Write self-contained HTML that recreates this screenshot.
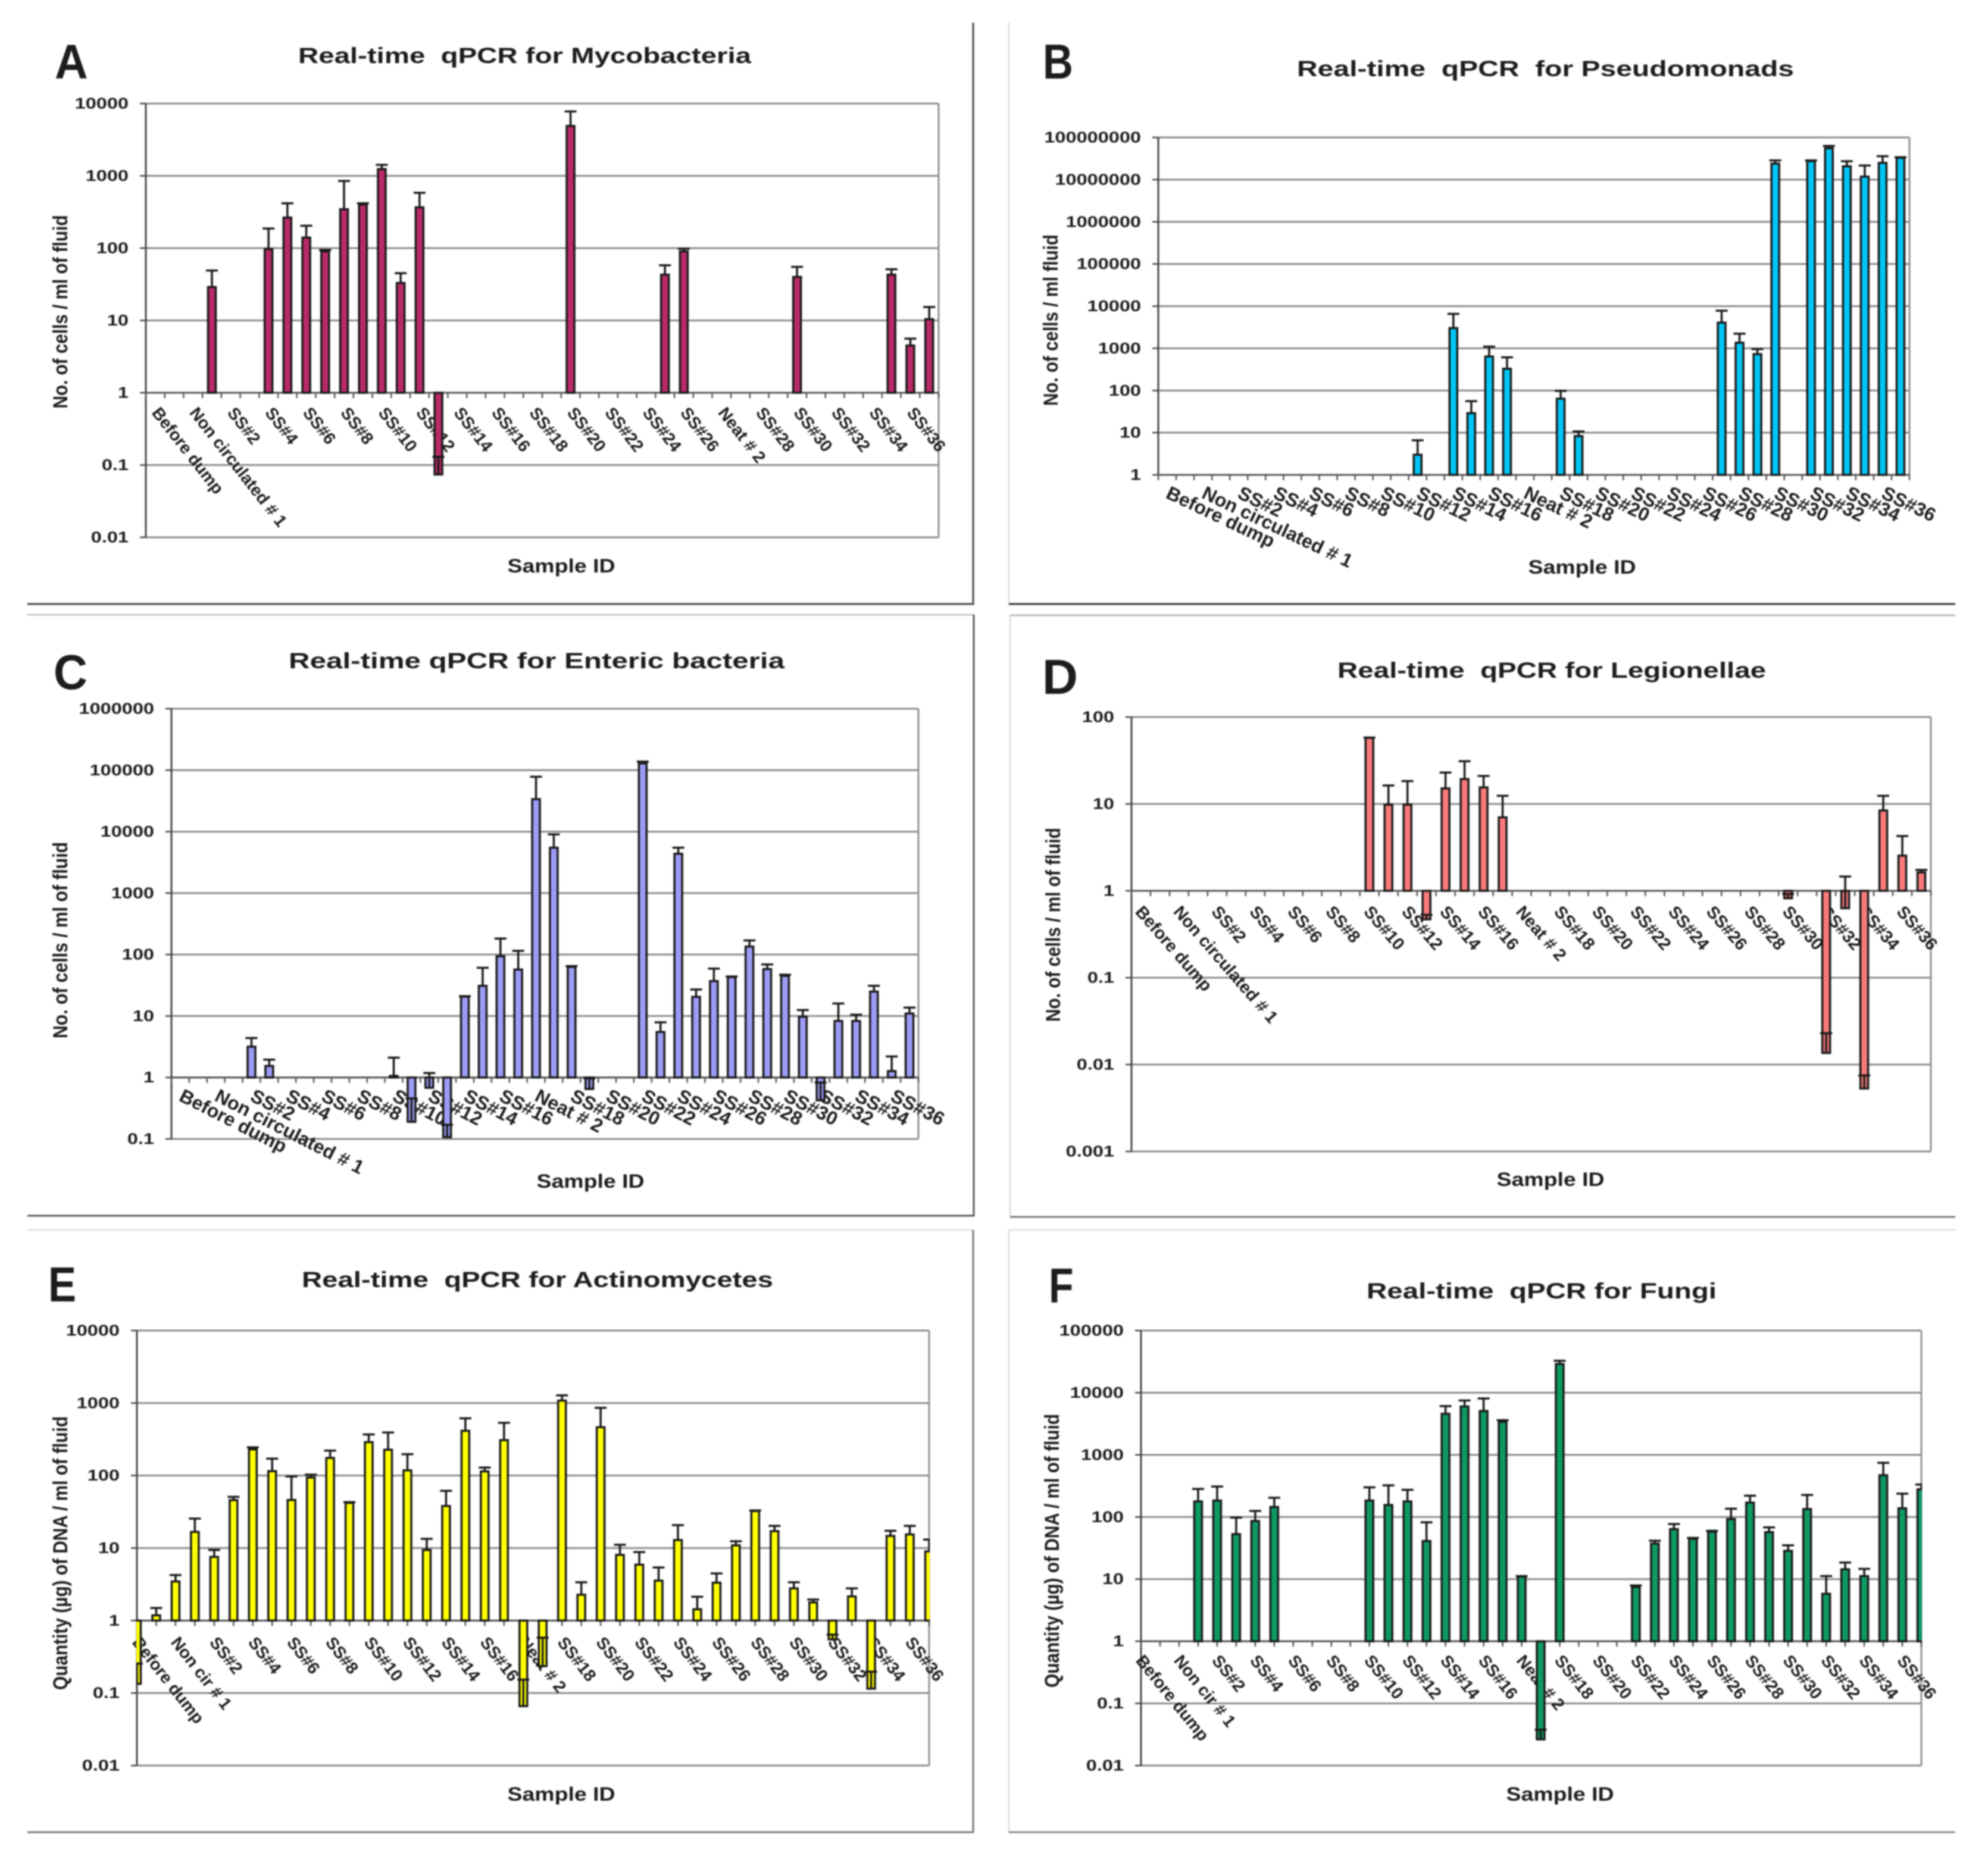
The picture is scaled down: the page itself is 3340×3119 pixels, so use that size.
<!DOCTYPE html>
<html lang="en">
<head>
<meta charset="utf-8">
<title>Real-time qPCR panels</title>
<style>
html,body{margin:0;padding:0;background:#fff;width:3340px;height:3119px;overflow:hidden}
svg{display:block;filter:blur(1px)}
text{font-family:"Liberation Sans",sans-serif;font-weight:bold;fill:#1c1c1c;white-space:pre}
</style>
</head>
<body>
<svg id="figure" xmlns="http://www.w3.org/2000/svg" width="3340" height="3119" viewBox="0 0 3340 3119">
<rect width="3340" height="3119" fill="#fff"/>
<g fill="none">
<path d="M1635 38V1015H46" stroke="#444" stroke-width="3"/>
<path d="M1695 38V1015" stroke="#ddd" stroke-width="2.5"/>
<path d="M1695 1015H3285" stroke="#333" stroke-width="3"/>
<path d="M46 1033H1636" stroke="#bbb" stroke-width="2.5"/>
<path d="M1636 1033V2043H46" stroke="#555" stroke-width="3"/>
<path d="M1697 1034V2045" stroke="#ddd" stroke-width="2.5"/>
<path d="M1697 1034H3285" stroke="#aaa" stroke-width="2.5"/>
<path d="M1697 2045H3285" stroke="#777" stroke-width="3"/>
<path d="M46 2067H1635" stroke="#ddd" stroke-width="2.5"/>
<path d="M1635 2067V3079H46" stroke="#777" stroke-width="3"/>
<path d="M3285 2067H1695V3079" stroke="#ddd" stroke-width="2.5"/>
<path d="M1695 3079H3285" stroke="#888" stroke-width="3"/>
</g>

<g>
<text transform="translate(92,132) scale(.94,1)" font-size="82">A</text>
<text x="501" y="106" font-size="37" textLength="761" lengthAdjust="spacingAndGlyphs">Real-time  qPCR for Mycobacteria</text>
<text transform="translate(113,524) rotate(-90)" text-anchor="middle" font-size="34" textLength="325" lengthAdjust="spacingAndGlyphs">No. of cells / ml of fluid</text>
<text x="943" y="962" text-anchor="middle" font-size="32" textLength="181" lengthAdjust="spacingAndGlyphs">Sample ID</text>
<g id="chart-a"></g>
</g>
<g>
<text transform="translate(1752,132) scale(.85,1)" font-size="83">B</text>
<text x="2179" y="128" font-size="37" textLength="835" lengthAdjust="spacingAndGlyphs">Real-time  qPCR  for Pseudomonads</text>
<text transform="translate(1777,538) rotate(-90)" text-anchor="middle" font-size="34" textLength="288" lengthAdjust="spacingAndGlyphs">No. of cells / ml fluid</text>
<text x="2658" y="964" text-anchor="middle" font-size="32" textLength="181" lengthAdjust="spacingAndGlyphs">Sample ID</text>
<g id="chart-b"></g>
</g>
<g>
<text transform="translate(90,1158) scale(.95,1)" font-size="83">C</text>
<text x="485" y="1123" font-size="37" textLength="833" lengthAdjust="spacingAndGlyphs">Real-time qPCR for Enteric bacteria</text>
<text transform="translate(113,1580) rotate(-90)" text-anchor="middle" font-size="34" textLength="330" lengthAdjust="spacingAndGlyphs">No. of cells / ml of fluid</text>
<text x="992" y="1996" text-anchor="middle" font-size="32" textLength="181" lengthAdjust="spacingAndGlyphs">Sample ID</text>
<g id="chart-c"></g>
</g>
<g>
<text transform="translate(1751,1166) scale(1,1)" font-size="83">D</text>
<text x="2247" y="1139" font-size="37" textLength="720" lengthAdjust="spacingAndGlyphs">Real-time  qPCR for Legionellae</text>
<text transform="translate(1781,1554) rotate(-90)" text-anchor="middle" font-size="34" textLength="326" lengthAdjust="spacingAndGlyphs">No. of cells / ml of fluid</text>
<text x="2605" y="1993" text-anchor="middle" font-size="32" textLength="181" lengthAdjust="spacingAndGlyphs">Sample ID</text>
<g id="chart-d"></g>
</g>
<g>
<text transform="translate(81,2187) scale(.85,1)" font-size="83">E</text>
<text x="507" y="2163" font-size="37" textLength="792" lengthAdjust="spacingAndGlyphs">Real-time  qPCR for Actinomycetes</text>
<text transform="translate(113,2610) rotate(-90)" text-anchor="middle" font-size="34" textLength="460" lengthAdjust="spacingAndGlyphs">Quantity (µg) of DNA / ml of fluid</text>
<text x="943" y="3026" text-anchor="middle" font-size="32" textLength="181" lengthAdjust="spacingAndGlyphs">Sample ID</text>
<g id="chart-e"></g>
</g>
<g>
<text transform="translate(1762,2189) scale(.82,1)" font-size="83">F</text>
<text x="2296" y="2182" font-size="37" textLength="588" lengthAdjust="spacingAndGlyphs">Real-time  qPCR for Fungi</text>
<text transform="translate(1779,2606) rotate(-90)" text-anchor="middle" font-size="34" textLength="460" lengthAdjust="spacingAndGlyphs">Quantity (µg) of DNA / ml of fluid</text>
<text x="2621" y="3026" text-anchor="middle" font-size="32" textLength="181" lengthAdjust="spacingAndGlyphs">Sample ID</text>
<g id="chart-f"></g>
</g>
</svg>

<script>
var n = null;

/* tick labels (one slot per category; odd categories carry no printed label) */
var labelsA = ['Before dump','','Non circulated # 1','','SS#2','','SS#4','','SS#6','','SS#8','','SS#10','','SS#12','','SS#14','','SS#16','','SS#18','','SS#20','','SS#22','','SS#24','','SS#26','','Neat # 2','','SS#28','','SS#30','','SS#32','','SS#34','','SS#36',''];
var labelsLong = ['Before dump','','Non circulated # 1','','SS#2','','SS#4','','SS#6','','SS#8','','SS#10','','SS#12','','SS#14','','SS#16','','Neat # 2','','SS#18','','SS#20','','SS#22','','SS#24','','SS#26','','SS#28','','SS#30','','SS#32','','SS#34','','SS#36',''];
var labelsShort = ['Before dump','','Non cir # 1','','SS#2','','SS#4','','SS#6','','SS#8','','SS#10','','SS#12','','SS#14','','SS#16','','Neat # 2','','SS#18','','SS#20','','SS#22','','SS#24','','SS#26','','SS#28','','SS#30','','SS#32','','SS#34','','SS#36',''];

/* y tick values, as printed */
var ticksA = ['10000','1000','100','10','1','0.1','0.01'];
var ticksB = ['100000000','10000000','1000000','100000','10000','1000','100','10','1'];
var ticksC = ['1000000','100000','10000','1000','100','10','1','0.1'];
var ticksD = ['100','10','1','0.1','0.01','0.001'];
var ticksE = ['10000','1000','100','10','1','0.1','0.01'];
var ticksF = ['100000','10000','1000','100','10','1','0.1','0.01'];

/* series: bar value and the upper end of its error bar */
var valuesA = [n,n,n,29,n,n,97,265,140,90,
  345,400,1240,33,367,0.074,n,n,n,n,
  n,n,4900,n,n,n,n,43,90,n,
  n,n,n,n,40,n,n,n,n,43,
  4.5,10.4];
var errorsA = [n,n,n,49,n,n,187,417,204,94,
  850,417,1420,45,583,0.13,n,n,n,n,
  n,n,7780,n,n,n,n,58,98,n,
  n,n,n,n,55,n,n,n,n,51,
  5.6,15.3];

var valuesB = [n,n,n,n,n,n,n,n,n,n,
  n,n,n,n,3,n,3020,29,640,328,
  n,n,64,8.3,n,n,n,n,n,n,
  n,4070,1360,728,24000000,n,27400000,55600000,20700000,11800000,
  25000000,33000000];
var errorsB = [n,n,n,n,n,n,n,n,n,n,
  n,n,n,n,6.6,n,6560,56,1096,612,
  n,n,98,10.7,n,n,n,n,n,n,
  n,7800,2230,960,28500000,n,28500000,63000000,27300000,21600000,
  36000000,34000000];

var valuesC = [n,n,n,n,3.17,1.54,n,n,n,n,
  n,n,1.06,0.19,0.68,0.107,20.7,31,94,57,
  33800,5480,63,0.65,n,n,129000,5.5,4370,20.5,
  37,43,135,58,45,9.75,0.425,8.3,8.3,25,
  1.27,11];
var errorsC = [n,n,n,n,4.39,1.95,n,n,n,n,
  n,n,2.1,0.457,1.18,0.17,21,61,182,115,
  78000,9040,65,0.97,n,n,138000,7.9,5480,27,
  59,44,170,69,47,12.5,0.83,16,10.5,31,
  2.2,13.7];

var valuesD = [n,n,n,n,n,n,n,n,n,n,
  n,n,57.7,9.8,9.8,0.47,15.1,19.3,15.5,7,
  n,n,n,n,n,n,n,n,n,n,
  n,n,n,n,0.82,n,0.0136,0.63,0.0053,8.4,
  2.54,1.63];
var errorsD = [n,n,n,n,n,n,n,n,n,n,
  n,n,58,16.3,18.3,0.53,23,31,21,12.4,
  n,n,n,n,n,n,n,n,n,n,
  n,n,n,n,0.92,n,0.023,1.46,0.0075,12.4,
  4.27,1.74];

var valuesE = [0.134,1.18,3.46,16.7,7.55,45.8,230,115,46,94,
  175,42,289,227,118,9.4,38,414,114,308,
  0.066,0.235,1080,2.27,464,8.05,5.9,3.55,12.9,1.43,
  3.33,10.9,32.4,17.1,2.78,1.78,0.55,2.15,0.115,14.7,
  15.4,9];
var errorsE = [0.255,1.49,4.24,25.5,9.4,50.8,245,171,97,103,
  221,43,369,393,197,13.4,61.5,615,129,534,
  0.153,0.58,1276,3.37,858,11.1,8.8,5.4,20.7,2.13,
  4.47,12.4,33,20.2,3.37,1.95,0.64,2.78,0.197,17.3,
  20.2,13.1];

var valuesF = [n,n,n,178,184,53,86,145,n,n,
  n,n,184,156,178,41,4580,6000,5080,3400,
  11,0.0264,29000,n,n,n,7.47,37.3,63.8,44.6,
  58,92.5,170,57,28.5,134,5.8,14.4,11.2,470,
  138,279];
var errorsF = [n,n,n,283,309,98,125,204,n,n,
  n,n,300,323,274,82,6080,7500,8070,3610,
  11.2,0.0378,32700,n,n,n,7.9,41.4,77,46,
  60,136,220,68,35,226,11.2,18.5,14.6,745,
  237,333];

var SVGNS = 'http://www.w3.org/2000/svg';
function mk(tag, attrs, parent) {
  var e = document.createElementNS(SVGNS, tag);
  for (var k in attrs) e.setAttribute(k, attrs[k]);
  parent.appendChild(e);
  return e;
}

function drawChart(id, layout, ticks, labels, values, errors, color) {
  var root = document.getElementById(id);
  var L = layout.left, R = layout.right, T = layout.top, B = layout.bottom;
  var maxLog = Math.log10(parseFloat(ticks[0]));
  var minLog = Math.log10(parseFloat(ticks[ticks.length - 1]));
  function yScale(v) { return T + (maxLog - Math.log10(v)) / (maxLog - minLog) * (B - T); }
  var count = labels.length;
  var step = layout.onTick ? (R - L) / (count - 1) : (R - L) / count;
  function xScale(i) { return L + (layout.onTick ? i : i + 0.5) * step; }
  var base = yScale(1);

  var clipId = id + '-clip';
  var defs = mk('defs', {}, root);
  var cp = mk('clipPath', {id: clipId}, defs);
  mk('rect', {x: L - 1, y: T - 20, width: R - L + 2, height: B - T + 40}, cp);

  ticks.forEach(function (t) {
    var yy = yScale(parseFloat(t));
    var grid = mk('line', {x1: L, x2: R, y1: yy, y2: yy, stroke: '#8a8a8a', 'stroke-width': 3}, root);
    
    
    var tm = mk('line', {x1: L - 10, x2: L, y1: yy, y2: yy, stroke: '#444', 'stroke-width': 2.5}, root);
    
    
    var lab = mk('text', {transform: 'translate(' + (L - 29) + ',' + (yy + 8.5) + ') scale(1.25,1)', 'text-anchor': 'end', 'font-size': 26}, root);
    lab.textContent = t;
    
    
  });

  var rightEdge = mk('line', {x1: R, x2: R, y1: T, y2: B, stroke: '#8f8f8f', 'stroke-width': 3}, root);
  
  
  var yAxis = mk('line', {x1: L, x2: L, y1: T, y2: B, stroke: '#444', 'stroke-width': 3}, root);
  
  
  var xAxis = mk('line', {x1: L, x2: R, y1: base, y2: base, stroke: '#555', 'stroke-width': 3}, root);
  
  

  for (var c = 0; c <= count; c++) {
    var tx = L + c * step;
    if (tx > R + 1) break;
    var xt = mk('line', {x1: tx, x2: tx, y1: base, y2: base + 9, stroke: '#555', 'stroke-width': 2.5}, root);
    
    
  }

  labels.forEach(function (text, i) {
    if (!text) return;
    var lx = xScale(i) + layout.labelDx;
    var ly = base + layout.labelDy;
    var xl = mk('text', {transform: 'translate(' + lx + ',' + ly + ') rotate(' + layout.angle + ')', 'font-size': layout.labelSize}, root);
    xl.textContent = text;
    
    
  });

  var marks = mk('g', {'clip-path': 'url(#' + clipId + ')'}, root);
  
  
  var barW = 13;
  values.forEach(function (v, i) {
    if (v === null) return;
    var cx = xScale(i);
    var yv = yScale(v);
    var bar = mk('rect', {x: cx - barW / 2, y: Math.min(yv, base), width: barW, height: Math.abs(yv - base), fill: color, stroke: '#1a1a1a', 'stroke-width': 3.5}, marks);
    
    
    var ye = yScale(errors[i]);
    var stem = mk('line', {x1: cx, x2: cx, y1: yv, y2: ye, stroke: '#1a1a1a', 'stroke-width': 3.5}, marks);
    
    
    var cap = mk('line', {x1: cx - 10, x2: cx + 10, y1: ye, y2: ye, stroke: '#1a1a1a', 'stroke-width': 3.5}, marks);
    
    
  });
}

drawChart('chart-a', {left: 245, right: 1577, top: 174, bottom: 903, angle: 52, labelSize: 28.5, labelDx: -7, labelDy: 34}, ticksA, labelsA, valuesA, errorsA, '#bb2a68');
drawChart('chart-b', {left: 1946, right: 3208, top: 231, bottom: 798, angle: 25.5, labelSize: 32, labelDx: -4, labelDy: 38}, ticksB, labelsLong, valuesB, errorsB, '#00c6f5');
drawChart('chart-c', {left: 288, right: 1543, top: 1191, bottom: 1914, angle: 27, labelSize: 32, labelDx: -4, labelDy: 38}, ticksC, labelsLong, valuesC, errorsC, '#9c9cf6');
drawChart('chart-d', {left: 1901, right: 3244, top: 1205, bottom: 1935, angle: 49, labelSize: 29, labelDx: -11, labelDy: 36}, ticksD, labelsLong, valuesD, errorsD, '#f97a7a');
drawChart('chart-e', {left: 230, right: 1561, top: 2236, bottom: 2967, angle: 52, labelSize: 28.5, labelDx: -9, labelDy: 37, onTick: true}, ticksE, labelsShort, valuesE, errorsE, '#ffff00');
drawChart('chart-f', {left: 1917, right: 3228, top: 2236, bottom: 2967, angle: 51, labelSize: 28.5, labelDx: -10, labelDy: 33, onTick: true}, ticksF, labelsShort, valuesF, errorsF, '#0e9a63');
</script>
</body>
</html>
